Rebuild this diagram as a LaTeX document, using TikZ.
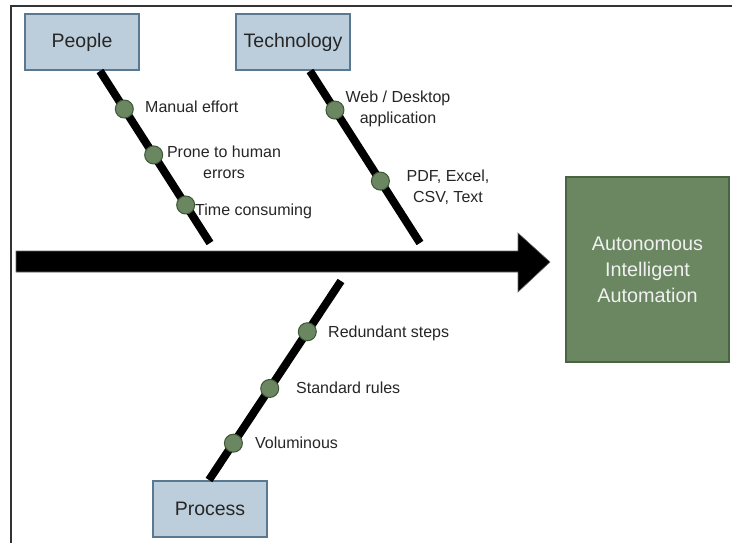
\documentclass[tikz,border=0pt]{standalone}
\usepackage{fontspec}
\setmainfont{Liberation Sans}
\definecolor{boxfill}{HTML}{BCCEDB}
\definecolor{boxline}{HTML}{5A7890}
\definecolor{gfill}{HTML}{6B8762}
\definecolor{gline}{HTML}{4A6342}
\definecolor{dotline}{HTML}{3E5636}
\definecolor{txt}{HTML}{262626}
\begin{document}
\begin{tikzpicture}[x=1pt,y=-1pt,
  catbox/.style={draw=boxline, line width=1.2pt, fill=boxfill, minimum width=114pt, minimum height=56pt, inner sep=0pt, font=\fontsize{19.5}{22}\selectfont, text=txt},
  bone/.style={line width=8pt, black},
  dot/.style={circle, draw=dotline, line width=1pt, fill=gfill, minimum size=18pt, inner sep=0pt},
  lbl/.style={font=\fontsize{16}{21}\selectfont, text=txt, inner sep=0pt, align=center}]
\useasboundingbox (0,0) rectangle (732,543);
\fill[white] (0,0) rectangle (732,543);
% frame
\draw[line width=2pt, black!80] (11,543) -- (11,6) -- (732,6);
% category boxes
\node[catbox] (People) at (82,42) {People};
\node[catbox] (Tech) at (293,42) {Technology};
\node[catbox] (Process) at (210,509) {Process};
% result box
\node[draw=gline, line width=1.2pt, fill=gfill, minimum width=163pt, minimum height=185pt, inner sep=0pt, align=center,
  font=\fontsize{19.8}{26}\selectfont, text=white!94!black] (Result) at (647.5,269.5) {Autonomous\\Intelligent\\Automation};
% spine
\coordinate (s0) at (16,261.5);
\coordinate (tip) at (550,262);
\filldraw[black, draw=black!60, line width=0.6pt] (16,251) -- (518,251) -- (518,233) -- (tip) -- (518,292) -- (518,272) -- (16,272) -- cycle;
% bones
\coordinate (p0) at (100,71);
\coordinate (p1) at (210,243);
\coordinate (t0) at (310,71);
\coordinate (t1) at (420,243);
\coordinate (r0) at (341,281);
\coordinate (r1) at (209,480);
\draw[bone] (p0) -- (p1)
  node[dot, pos=0.221] (d1) {}
  node[dot, pos=0.488] (d2) {}
  node[dot, pos=0.779] (d3) {};
\draw[bone] (t0) -- (t1)
  node[dot, pos=0.227] (d4) {}
  node[dot, pos=0.640] (d5) {};
\draw[bone] (r0) -- (r1)
  node[dot, pos=0.255] (d6) {}
  node[dot, pos=0.540] (d7) {}
  node[dot, pos=0.815] (d8) {};
% labels
\node[lbl, anchor=west] (l1) at (145,107) {Manual effort};
\node[lbl] (l2) at (224,162.5) {Prone to human\\errors};
\node[lbl, anchor=west] (l3) at (195,211) {Time consuming};
\node[lbl] (l4) at (398,109) {Web / Desktop\\application};
\node[lbl] (l5) at (448,187.5) {PDF, Excel,\\CSV, Text};
\node[lbl, anchor=west] (l6) at (328,333) {Redundant steps};
\node[lbl, anchor=west] (l7) at (296,388) {Standard rules};
\node[lbl, anchor=west] (l8) at (255,443) {Voluminous};
\end{tikzpicture}
\end{document}
